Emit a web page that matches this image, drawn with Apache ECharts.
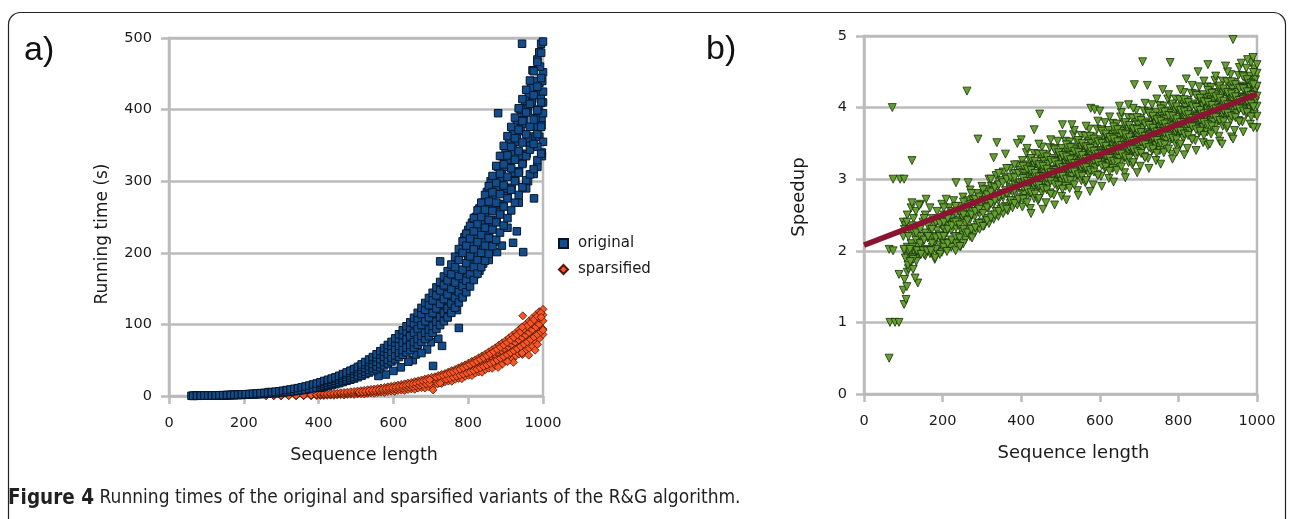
<!DOCTYPE html>
<html>
<head>
<meta charset="utf-8">
<script src="https://cdn.jsdelivr.net/npm/echarts@6/dist/echarts.min.js"></script>
<style>html,body{margin:0;padding:0;background:#fff;}#c{width:1290px;height:519px;}</style>
</head>
<body>
<div id="c"></div>
<script>
// ---------- DATA ----------
const legendNames = ['original', 'sparsified'];

// original: [sequence length, running time (s)]
const originalPoints = [
[60,0.3],[66,0.2],[72,0.4],[78,0.3],[84,0.5],[90,0.4],[96,0.6],[102,0.5],[108,0.7],[114,0.6],[120,0.8],[126,0.9],[132,0.7],[138,1.0],[144,1.1],[150,0.9],[156,1.3],[162,1.2],[168,1.5],[174,1.4],[180,1.7],[186,1.5],[192,1.9],[198,2.1],[204,1.8],[210,2.4],[216,2.2],[222,2.7],[228,2.5],[234,3.1],[240,2.8],[246,3.5],[252,3.2],[258,4.0],[264,3.6],[268,5.5],[272,4.3],[278,4.9],[284,4.1],[290,5.6],[296,5.0],[302,6.4],[306,5.3],[312,7.2],[318,6.0],[322,8.1],[328,6.8],[334,9.0],[338,7.4],[344,10.2],[350,8.3],[354,11.3],[360,9.1],[366,12.6],[370,10.0],[376,13.8],[382,11.2],[386,15.2],[392,12.4],[398,16.8],[402,13.5],[408,18.1],[412,14.6],[418,19.9],[424,16.0],[428,21.5],[434,17.7],[440,23.4],[444,19.2],[450,25.6],[454,21.0],[460,27.8],[466,22.6],[470,30.3],[476,24.8],[480,32.5],[486,27.0],[490,35.1],[496,29.3],[500,37.9],[504,31.2],[510,40.8],[514,33.9],[520,43.5],[526,36.4],[530,46.8],[536,38.7],[540,50.2],[546,41.5],[550,54.0],[556,44.3],[560,57.6],[566,47.9],[570,61.8],[574,50.1],[580,65.9],[586,53.6],[590,70.3],[596,57.2],[600,75.0],[604,60.9],[610,79.8],[616,64.8],[620,84.6],[624,68.0],[630,90.1],[636,72.9],[640,95.4],[646,77.6],[650,101.2],[656,82.0],[660,107.5],[664,86.9],[670,113.6],[676,92.3],[680,120.4],[686,97.5],[690,127.0],[694,103.1],[700,134.2],[706,108.8],[710,141.5],[716,114.0],[720,149.0],[726,120.6],[730,156.8],[734,126.9],[740,165.0],[746,133.2],[750,173.1],[754,140.5],[760,181.9],[766,147.2],[770,190.6],[774,155.0],[780,199.8],[786,162.3],[790,209.4],[796,170.1],[800,219.0],[804,178.4],[810,228.6],[816,187.0],[820,238.9],[826,196.2],[830,249.0],[834,205.5],[840,259.3],[846,214.8],[850,270.2],[856,225.0],[860,281.0],[864,235.6],[870,292.4],[876,246.1],[880,303.8],[886,257.0],[890,315.5],[894,268.2],[900,327.0],[906,279.4],[910,338.8],[916,291.0],[920,350.2],[926,302.5],[930,362.0],[936,314.0],[940,374.5],[946,326.2],[950,386.0],[956,338.4],[960,398.6],[966,350.0],[970,411.3],[976,362.5],[980,424.0],[986,375.0],[990,437.5],[996,388.0],[1000,452.0],
[520,40],[540,46],[560,52],[580,60],[600,67],[620,76],[640,86],[660,97],[680,108],[700,120],[720,132],[740,146],[760,160],[780,175],[800,190],[820,208],[840,226],[860,246],[880,268],[900,290],[920,312],[940,336],[960,360],[980,388],[1000,410],
[985,470],[990,480],[995,492],[1000,495],[992,460],[998,440],[1000,425],[994,415],[988,400],[1000,395],[996,378],[990,362],[1000,355],[997,340],[985,348],[978,440],[972,455],[968,430],[962,420],[958,405],[952,412],[948,395],[944,380],[940,400],[935,370],[930,385],[925,355],[920,368],[915,340],[910,358],[905,330],[900,345],[895,320],[890,335],[885,305],[880,320],[875,290],[870,305],[865,275],[860,300],[855,262],[850,285],[845,250],[840,270],[835,240],[830,262],[825,230],[820,250],[815,220],[810,242],[805,212],[800,232],[795,205],[790,222],
[944,492],[880,395],[725,188],[775,95],[706,42],[730,70],[652,50],[660,58],[947,201],[877,201],[920,214],[976,276],[997,335],[890,210],[930,230],[960,300],[855,190],[840,185],[820,170],[800,160],[785,140],[770,120],[760,130],[745,110],[720,80],[700,75],[690,65],[675,60],[640,48],[620,40],[600,35],[580,30],[560,28],[700,100],[730,110],[750,125],[790,150],[815,165],[830,175],[870,215],[905,235],[935,270],[955,290],[975,310],[985,320]
];
// original, more readings: [sequence length, several running times at that length]
const originalRows = [
[65,0.2,0.3],[75,0.3,0.4],[85,0.4,0.5],[95,0.4,0.7],[105,0.5,0.7],[115,0.6,0.8],[125,0.6,1.0],[135,0.7,1.1],[145,0.8,1.2],[155,1.0,1.4],[165,1.1,1.7],[175,1.2,1.8],[185,1.4,2.0],[195,1.5,2.3],[205,1.7,2.5],[215,1.9,2.9],[225,2.2,3.2],[235,2.4,3.6],[245,2.6,4.0],[255,2.9,4.3],[265,3.2,4.8],[275,3.6,5.4],[285,4.0,6.0],[295,4.4,6.6],[305,5.0,7.4],[315,5.5,8.3],[325,6.1,9.1],[335,6.7,10.1],[345,7.4,11.0],[355,8.1,12.1],[365,8.9,13.3],[375,9.8,14.6],[385,10.7,16.1],[395,11.7,17.5],
[405,11.5,12.7,15.3,17.8,19.2],[415,12.7,14.1,16.8,19.4,21.0],[425,14.0,15.5,18.3,21.0,22.7],[435,15.2,16.9,19.8,22.6,24.4],[445,16.5,18.3,21.3,24.2,26.1],[455,17.9,19.9,23.0,26.1,28.2],[465,19.5,21.7,25.0,28.3,30.6],[475,21.2,23.5,27.0,30.5,32.9],[485,22.8,25.3,29.0,32.7,35.3],[495,24.4,27.1,31.0,34.9,37.7],
[505,26.3,29.2,33.4,37.6,40.6],[515,28.4,31.6,36.2,40.8,44.1],[525,30.6,34.0,39.0,44.0,47.5],[535,32.8,36.4,41.8,47.2,51.0],[545,34.9,38.8,44.6,50.4,54.4],[555,37.4,41.5,47.8,54.0,58.3],[565,40.1,44.5,51.3,58.0,62.6],[575,42.8,47.5,54.8,62.0,67.0],[585,45.5,50.5,58.3,66.0,71.3],[595,48.2,53.5,61.8,70.0,75.6],
[605,51.1,56.8,65.7,74.6,80.6],[615,54.4,60.4,70.1,79.8,86.2],[625,57.6,64.0,74.5,85.0,91.8],[635,60.8,67.6,78.9,90.2,97.4],[645,64.1,71.2,83.3,95.4,103.0],[655,67.7,75.2,88.2,101.2,109.3],[665,71.6,79.6,93.6,107.6,116.2],[675,75.6,84.0,99.0,114.0,123.1],[685,79.6,88.4,104.4,120.4,130.0],[695,83.5,92.8,109.8,126.8,137.0],
[705,88.2,98.0,115.8,133.5,144.2],[715,93.6,104.0,122.3,140.5,151.7],[725,99.0,110.0,128.8,147.5,159.3],[735,104.4,116.0,135.3,154.5,166.9],[745,109.8,122.0,141.8,161.5,174.4],[755,116.1,129.0,149.5,170.0,183.6],[765,123.3,137.0,158.5,180.0,194.4],[775,130.5,145.0,167.5,190.0,205.2],[785,137.7,153.0,176.5,200.0,216.0],[795,144.9,161.0,185.5,210.0,226.8],
[805,153.0,170.0,195.0,220.0,237.6],[815,162.0,180.0,205.0,230.0,248.4],[825,171.0,190.0,215.0,240.0,259.2],[835,180.0,200.0,225.0,250.0,270.0],[845,189.0,210.0,235.0,260.0,280.8],[855,198.5,220.5,246.0,271.5,293.2],[865,209.3,232.5,258.5,284.5,307.3],[875,218.3,242.5,270.0,297.5,321.3],[885,228.2,253.5,282.0,310.5,335.3],[895,238.1,264.5,294.0,323.5,349.4],
[905,248.4,276.0,306.0,336.0,362.9],[915,259.2,288.0,318.0,348.0,375.8],[925,270.0,300.0,330.0,360.0,388.8],[935,280.8,312.0,342.0,372.0,401.8],[945,291.6,324.0,354.0,384.0,414.7],[955,301.5,335.0,365.5,396.0,427.7],[965,309.6,344.0,376.0,408.0,440.6],[975,316.8,352.0,386.0,420.0,453.6],[985,329.4,366.0,399.0,432.0,466.6],[995,338.4,376.0,410.0,444.0,479.5]
];

// sparsified: [sequence length, several running times at that length]
const sparsifiedRows = [
[260,0.2,0.5],[280,0.3,0.6],[300,0.2,0.5,0.8],[320,0.4,0.7],[340,0.3,0.6,0.9],[360,0.5,0.8,1.1],[380,0.4,0.9,1.4],
[395,0.6,1.2,1.9],[405,0.8,1.6,2.4],[414,0.6,1.5,2.1,2.9],[423,1.0,1.9,2.8],[432,1.2,2.2,3.2],[441,0.9,2.4,3.6],[450,1.5,2.8,3.9],[459,1.8,3.2,4.5],[468,1.4,3.5,4.9],[477,2.1,3.9,5.4],[486,2.5,4.2,5.9],[495,2.2,4.6,6.3],[504,2.9,4.9,6.9],[513,3.3,5.5,7.4],[522,2.8,5.9,8.0],[531,3.8,6.4,8.6],[540,4.3,6.8,9.2],[549,3.9,7.3,9.8],[558,4.9,7.9,10.5],[567,5.4,8.4,11.2],[576,5.0,9.0,12.0],[585,6.2,9.6,12.8],[594,6.8,10.2,13.5],[603,6.3,10.8,14.4],[612,7.6,11.5,15.2],[621,8.2,12.2,16.1],[630,7.7,13.0,17.0],[639,9.1,13.8,18.0],[648,9.9,14.7,19.0],[657,9.3,15.6,20.1],[666,11.0,16.5,21.2],[675,11.8,17.4,22.4],[684,11.2,18.4,23.6],[693,13.1,19.5,24.9],[702,14.0,20.6,26.2],
[711,16.0,20.1,22.6,24.5,26.8],[720,17.9,21.5,24.0,26.0,28.6],[729,17.6,22.4,25.3,27.4,30.1],[738,19.8,23.9,26.8,29.0,31.4],[747,20.9,25.1,28.2,30.5,33.6],[756,20.6,26.5,29.8,32.2,35.5],[765,23.4,28.0,31.4,34.0,37.0],[774,24.6,29.4,33.1,35.8,39.4],[783,24.2,31.1,34.9,37.6,41.6],[792,27.5,32.8,36.8,39.8,43.5],[801,28.9,34.4,38.7,41.8,46.0],[810,28.6,36.2,40.7,44.0,48.4],[819,32.0,38.0,42.7,46.1,50.5],[828,33.5,40.0,44.9,48.5,53.4],[837,33.2,41.9,47.1,50.9,56.0],[846,37.1,44.0,49.5,53.4,58.5],[855,38.8,46.2,51.9,56.0,61.7],[864,38.6,48.4,54.4,58.8,64.7],[873,42.8,50.7,57.0,61.6,67.4],[882,44.7,53.1,59.7,64.5,71.0],[891,44.3,55.6,62.5,67.5,74.3],[900,49.1,58.2,65.4,70.6,77.3],[909,51.2,60.8,68.3,73.8,81.2],[918,50.8,63.5,71.4,77.1,84.9],[927,56.0,66.5,74.7,80.7,88.2],[936,58.5,69.4,78.0,84.2,92.7],[945,58.0,72.4,81.4,87.9,96.6],[954,63.8,75.6,84.9,91.7,100.3],[963,66.5,78.9,88.6,95.7,104.8],[972,69.4,82.2,92.4,99.8,109.0],[981,75.2,85.7,96.3,104.0,113.5],[990,80.3,89.4,100.4,108.4,117.8],[1000,86.0,93.5,105.0,113.4,121.0],
[508,4.2,5.5],[517,4.6,5.9],[526,5.0,6.5],[535,5.4,7.0],[544,5.9,7.6],[553,6.2,8.0],[562,6.6,8.6],[571,7.2,9.4],[580,7.8,10.1],[589,8.4,10.9],[598,8.8,11.4],[607,9.4,12.2],[616,9.9,12.9],[625,10.7,13.9],[634,11.5,14.9],[643,12.3,16.0],[652,13.0,16.8],[661,13.9,17.9],[670,14.8,19.1],[679,15.8,20.5],[688,16.8,21.8],[697,17.6,22.8],
[715,19.8,25.6],[724,21.0,27.1],[733,22.2,28.6],[742,23.4,30.3],[751,24.7,32.0],[760,26.1,33.7],[769,27.5,35.5],[778,29.0,37.5],[787,30.5,39.5],[796,32.2,41.6],[805,33.9,43.8],[814,35.6,46.1],[823,37.5,48.5],[832,39.4,51.0],[841,41.4,53.6],[850,43.4,56.2],[859,45.6,59.0],[868,47.8,61.9],[877,50.2,65.0],[886,52.6,68.1],[895,55.1,71.3],[904,57.7,74.7],[913,60.4,78.2],[922,63.2,81.8],[931,66.1,85.6],[940,69.2,89.5],[949,72.3,93.6],[958,75.5,97.8],[967,78.9,102.1],[976,82.4,106.6],[985,86.0,111.3],[994,89.6,116.0],
[706,8.5],[718,17],[725,18],[944,60],[979,64],[921,47],[962,57],[985,72],[1000,92],[995,110],[946,112],[880,40],[905,48],[944,96]
];

// speedup: [sequence length, several speedups at that length]
const speedupRows = [
[100,1.45,2.2,2.4],[105,1.9,2.35],[110,1.7,2.05,2.5],[115,1.95,2.3],[120,1.85,2.1,2.6],[126,2.0,2.25,2.45],[132,1.9,2.15,2.55],[138,2.05,2.3],[144,1.95,2.2,2.65],[150,2.0,2.12,2.4],[156,1.93,2.25,2.5],[162,2.02,2.18,2.38],[168,1.96,2.3,2.6],[174,2.05,2.2,2.45],[180,1.88,2.12,2.35],[186,2.0,2.28,2.55],[192,2.08,2.22,2.42],[198,1.98,2.15,2.35,2.65],[204,2.1,2.3,2.5],[210,2.02,2.25,2.4],[216,2.12,2.35,2.6],[222,2.05,2.28,2.45],[228,2.15,2.4,2.7],[234,2.1,2.32,2.52],[240,2.2,2.42,2.62],[246,2.06,2.3,2.5],[252,2.22,2.45,2.75],[258,2.15,2.38,2.58],[264,2.28,2.5,2.7],[270,2.2,2.44,2.85],[276,2.32,2.55,2.72],[282,2.25,2.48,2.66],[288,2.36,2.6,2.8],[294,2.3,2.52,2.74],[300,2.4,2.62,2.9],[306,2.35,2.57,2.78],[312,2.45,2.68,2.86],[318,2.38,2.62,3.0],[324,2.5,2.72,2.9],[330,2.44,2.66,2.84],[336,2.55,2.76,3.05],[342,2.48,2.7,2.92],[348,2.58,2.8,2.98],[354,2.52,2.74,3.1],[360,2.62,2.84,3.02],[366,2.56,2.78,2.96],[372,2.66,2.88,3.15],[378,2.6,2.82,3.0],[384,2.7,2.92,3.08],[390,2.64,2.86,3.2],[396,2.74,2.95,3.12],
[103,1.6,2.0,2.3],[113,1.75,2.0,2.2],[123,1.9,2.05,2.35],[133,1.85,2.0,2.25],[143,2.0,2.1,2.3],[153,1.95,2.15,2.45],[163,2.0,2.2,2.35],[173,1.98,2.1,2.3],[183,2.02,2.18,2.4],[193,1.95,2.2,2.38],[203,2.05,2.2,2.4,2.6],[213,2.1,2.3,2.45],[223,2.15,2.35,2.55],[233,2.0,2.2,2.4,2.62],[243,2.18,2.36,2.55],[253,2.1,2.3,2.5,2.68],[263,2.25,2.42,2.6],[273,2.3,2.5,2.65,2.8],[283,2.32,2.55,2.72],[293,2.38,2.58,2.75],[303,2.34,2.52,2.7,2.85],[313,2.42,2.6,2.78],[323,2.46,2.66,2.82,3.0],[333,2.5,2.7,2.88],[343,2.55,2.75,2.92,3.08],[353,2.6,2.78,2.95],[363,2.58,2.8,3.0,3.15],[373,2.7,2.86,3.03],[383,2.66,2.84,3.02,3.2],[393,2.72,2.9,3.08],
[403,2.61,2.80,2.95,3.09,3.26],[408,2.79,2.95,3.08],[413,2.73,2.89,3.04,3.20,3.37],[418,2.87,3.02,3.17],[423,2.59,2.80,2.95,3.10,3.26],[428,2.84,3.00,3.13],[433,2.73,2.90,3.05,3.20,3.36],[438,2.91,3.06,3.21],[443,2.70,2.89,3.04,3.18,3.35],[448,2.88,3.04,3.17],[453,2.81,2.97,3.12,3.28,3.45],[458,2.95,3.10,3.25],[463,2.67,2.88,3.03,3.18,3.34],[468,2.92,3.08,3.21],[473,2.81,2.98,3.13,3.28,3.44],[478,2.99,3.14,3.29],[483,2.78,2.97,3.12,3.26,3.43],[488,2.96,3.12,3.25],[493,2.89,3.05,3.20,3.36,3.53],[498,3.03,3.18,3.33],
[503,2.76,2.97,3.12,3.27,3.43],[508,3.00,3.16,3.29],[513,2.90,3.07,3.22,3.37,3.53],[518,3.08,3.23,3.38],[523,2.87,3.06,3.21,3.35,3.52],[528,3.04,3.20,3.33],[533,2.98,3.14,3.29,3.45,3.62],[538,3.12,3.27,3.42],[543,2.84,3.05,3.20,3.35,3.51],[548,3.08,3.24,3.37],[553,2.98,3.15,3.30,3.45,3.61],[558,3.16,3.31,3.46],[563,2.95,3.14,3.29,3.43,3.60],[568,3.12,3.28,3.41],[573,3.06,3.22,3.37,3.53,3.70],[578,3.20,3.35,3.50],[583,2.92,3.13,3.28,3.43,3.59],[588,3.16,3.32,3.45],[593,3.07,3.24,3.39,3.54,3.70],[598,3.25,3.40,3.55],
[603,3.04,3.23,3.38,3.52,3.69],[608,3.20,3.36,3.49],[613,3.15,3.31,3.46,3.62,3.79],[618,3.29,3.44,3.59],[623,3.01,3.22,3.37,3.52,3.68],[628,3.25,3.41,3.54],[633,3.15,3.32,3.47,3.62,3.78],[638,3.33,3.48,3.63],[643,3.12,3.31,3.46,3.60,3.77],[648,3.29,3.45,3.58],[653,3.23,3.39,3.54,3.70,3.87],[658,3.37,3.52,3.67],[663,3.09,3.30,3.45,3.60,3.76],[668,3.33,3.49,3.62],[673,3.23,3.40,3.55,3.70,3.86],[678,3.41,3.56,3.71],[683,3.20,3.39,3.54,3.68,3.85],[688,3.37,3.53,3.66],[693,3.32,3.48,3.63,3.79,3.96],[698,3.46,3.61,3.76],
[703,3.18,3.39,3.54,3.69,3.85],[708,3.42,3.58,3.71],[713,3.32,3.49,3.64,3.79,3.95],[718,3.50,3.65,3.80],[723,3.29,3.48,3.63,3.77,3.94],[728,3.46,3.62,3.75],[733,3.40,3.56,3.71,3.87,4.04],[738,3.54,3.69,3.84],[743,3.26,3.47,3.62,3.77,3.93],[748,3.50,3.66,3.79],[753,3.40,3.57,3.72,3.87,4.03],[758,3.58,3.73,3.88],[763,3.37,3.56,3.71,3.85,4.02],[768,3.55,3.71,3.84],[773,3.48,3.64,3.79,3.95,4.12],[778,3.62,3.77,3.92],[783,3.35,3.56,3.71,3.86,4.02],[788,3.59,3.75,3.88],[793,3.49,3.66,3.81,3.96,4.12],[798,3.67,3.82,3.97],
[803,3.46,3.65,3.80,3.94,4.11],[808,3.63,3.79,3.92],[813,3.57,3.73,3.88,4.04,4.21],[818,3.71,3.86,4.01],[823,3.43,3.64,3.79,3.94,4.10],[828,3.67,3.83,3.96],[833,3.57,3.74,3.89,4.04,4.20],[838,3.75,3.90,4.05],[843,3.54,3.73,3.88,4.02,4.19],[848,3.71,3.87,4.00],[853,3.65,3.81,3.96,4.12,4.29],[858,3.79,3.94,4.09],[863,3.51,3.72,3.87,4.02,4.18],[868,3.76,3.92,4.05],[873,3.66,3.83,3.98,4.13,4.29],[878,3.84,3.99,4.14],[883,3.63,3.82,3.97,4.11,4.28],[888,3.80,3.96,4.09],[893,3.74,3.90,4.05,4.21,4.38],[898,3.88,4.03,4.18],
[903,3.60,3.81,3.96,4.11,4.27],[908,3.84,4.00,4.13],[913,3.74,3.91,4.06,4.21,4.37],[918,3.92,4.07,4.22],[923,3.71,3.90,4.05,4.19,4.36],[928,3.88,4.04,4.17],[933,3.82,3.98,4.13,4.29,4.46],[938,3.96,4.11,4.26],[943,3.68,3.89,4.04,4.19,4.35],[948,3.92,4.08,4.21],[953,3.82,3.99,4.14,4.29,4.45],[958,4.00,4.15,4.30],[963,3.80,3.99,4.14,4.28,4.45],[968,3.97,4.13,4.26],[973,3.91,4.07,4.22,4.38,4.55],[978,4.05,4.20,4.35],[983,3.77,3.98,4.13,4.28,4.44],[988,4.02,4.18,4.31],[993,3.91,4.08,4.23,4.38,4.54],[996,4.09,4.24,4.39],[1000,3.72,3.88,4.02,4.16,4.30,4.48,4.60],
[405,2.72,2.88,3.01,3.18],[415,2.67,2.85,2.97,3.14,3.43],[425,2.52,2.81,2.97,3.12,3.29],[435,2.79,2.95,3.08,3.25],[445,2.73,2.91,3.03,3.20,3.49],[455,2.58,2.87,3.03,3.18,3.35],[465,2.85,3.01,3.14,3.31],[475,2.79,2.97,3.09,3.26,3.55],[485,2.64,2.93,3.09,3.24,3.41],[495,2.91,3.07,3.20,3.37],
[505,2.86,3.04,3.16,3.33,3.62],[515,2.71,3.00,3.16,3.31,3.48],[525,2.98,3.14,3.27,3.44],[535,2.92,3.10,3.22,3.39,3.68],[545,2.77,3.06,3.22,3.37,3.54],[555,3.04,3.20,3.33,3.50],[565,2.98,3.16,3.28,3.45,3.74],[575,2.83,3.12,3.28,3.43,3.60],[585,3.10,3.26,3.39,3.56],[595,3.05,3.23,3.35,3.52,3.81],
[605,2.90,3.19,3.35,3.50,3.67],[615,3.17,3.33,3.46,3.63],[625,3.11,3.29,3.41,3.58,3.87],[635,2.96,3.25,3.41,3.56,3.73],[645,3.23,3.39,3.52,3.69],[655,3.17,3.35,3.47,3.64,3.93],[665,3.02,3.31,3.47,3.62,3.79],[675,3.29,3.45,3.58,3.75],[685,3.23,3.41,3.53,3.70,3.99],[695,3.09,3.38,3.54,3.69,3.86],
[705,3.36,3.52,3.65,3.82],[715,3.30,3.48,3.60,3.77,4.06],[725,3.15,3.44,3.60,3.75,3.92],[735,3.42,3.58,3.71,3.88],[745,3.36,3.54,3.66,3.83,4.12],[755,3.21,3.50,3.66,3.81,3.98],[765,3.48,3.64,3.77,3.94],[775,3.42,3.60,3.72,3.89,4.18],[785,3.28,3.57,3.73,3.88,4.05],[795,3.55,3.71,3.84,4.01],
[805,3.49,3.67,3.79,3.96,4.25],[815,3.34,3.63,3.79,3.94,4.11],[825,3.61,3.77,3.90,4.07],[835,3.55,3.73,3.85,4.02,4.31],[845,3.40,3.69,3.85,4.00,4.17],[855,3.67,3.83,3.96,4.13],[865,3.61,3.79,3.91,4.08,4.37],[875,3.47,3.76,3.92,4.07,4.24],[885,3.74,3.90,4.03,4.20],[895,3.68,3.86,3.98,4.15,4.44],
[905,3.53,3.82,3.98,4.13,4.30],[915,3.80,3.96,4.09,4.26],[925,3.74,3.92,4.04,4.21,4.50],[935,3.59,3.88,4.04,4.19,4.36],[945,3.86,4.02,4.15,4.32],[955,3.80,3.98,4.10,4.27,4.56],[965,3.66,3.95,4.11,4.26,4.43],[975,3.93,4.09,4.22,4.39],[985,3.87,4.05,4.17,4.34,4.63],[991,3.72,4.01,4.17,4.32,4.49]
];
const speedupOutliers = [
[64,0.5],[66,1.0],[79,1.0],[89,1.0],[64,2.02],[74,2.0],[72,4.0],[74,3.0],[92,3.0],[102,3.0],[122,3.26],[262,4.23],[234,2.95],[265,2.95],[290,3.56],[338,3.51],[89,1.67],[102,1.25],[107,1.32],[109,1.5],[112,1.8],[125,1.74],[125,1.88],[137,1.55],[130,1.62],[102,2.02],[117,2.02],[135,2.0],[150,2.0],[181,1.9],[211,1.99],[244,2.06],[275,2.18],[122,2.67],[140,2.63],[158,2.72],[209,2.72],[109,2.4],[709,4.64],[779,4.63],[939,4.95],[688,4.32],[721,4.31],[875,4.6],[976,4.67],[447,3.91],[433,3.69],[577,3.99],[587,3.97],[505,3.76],[529,3.76],[673,4.04],[880,3.49],[911,3.49],[939,3.56],[796,3.38],[160,2.0],[170,2.0],[145,1.95],[118,1.85],[400,3.55],[390,3.5],[330,3.3],[360,3.35],[600,3.95],[650,4.02],[760,4.25],[820,4.4],[850,4.5],[960,4.62],[990,4.7],[920,4.58]
];
// fitted trend line endpoints
const trendLine = [[0, 2.08], [1000, 4.19]];

// ---------- BUILD ----------
function rowsToPoints(rows) {
  const out = [];
  rows.forEach(r => { for (let i = 1; i < r.length; i++) out.push([r[0], r[i]]); });
  return out;
}
const originalAll = originalPoints.concat(rowsToPoints(originalRows));
const sparsifiedPoints = rowsToPoints(sparsifiedRows);
const speedupPoints = rowsToPoints(speedupRows).concat(speedupOutliers);

const FONT = 'DejaVu Sans';
const GRAY = '#bbbbbb';
const TXT = '#1a1a1a';

function xAxisCfg(gridIndex, nameSize, pad) {
  return {
    gridIndex, type: 'value', min: 0, max: 1000, interval: 200,
    axisLine: { show: true, lineStyle: { color: GRAY, width: 2.5 } },
    axisTick: { show: true, length: 8, lineStyle: { color: GRAY, width: 2.5 } },
    splitLine: { show: false },
    axisLabel: { margin: 20, fontSize: 14.5, color: TXT, fontFamily: FONT, formatter: v => String(v) },
    name: 'Sequence length', nameLocation: 'middle', nameGap: 50,
    nameTextStyle: { fontSize: nameSize, color: TXT, fontFamily: FONT, padding: pad }
  };
}
function yAxisCfg(gridIndex, max, interval, name, nameSize, gap, pad) {
  return {
    gridIndex, type: 'value', min: 0, max, interval,
    axisLine: { show: true, lineStyle: { color: GRAY, width: 2.5 } },
    axisTick: { show: true, length: 8, lineStyle: { color: GRAY, width: 2.5 } },
    splitLine: { show: true, lineStyle: { color: GRAY, width: 2.5 } },
    axisLabel: { margin: 17, fontSize: 14.5, color: TXT, fontFamily: FONT, formatter: v => String(v) },
    name, nameLocation: 'middle', nameGap: gap, nameRotate: 90,
    nameTextStyle: { fontSize: nameSize, color: TXT, fontFamily: FONT, padding: pad }
  };
}

const chart = echarts.init(document.getElementById('c'), null, { renderer: 'canvas' });
chart.setOption({
  animation: false,
  backgroundColor: '#ffffff',
  grid: [
    { left: 169, top: 38, width: 374, height: 358, show: true, borderColor: GRAY, borderWidth: 2.5, backgroundColor: 'transparent' },
    { left: 864, top: 36, width: 393, height: 358, show: true, borderColor: GRAY, borderWidth: 2.5, backgroundColor: 'transparent' }
  ],
  xAxis: [xAxisCfg(0, 17.5, [0, 0, 0, 16]), xAxisCfg(1, 18, [0, 0, 0, 26])],
  yAxis: [
    yAxisCfg(0, 500, 100, 'Running time (s)', 17, 58, [0, 34, 0, 0]),
    yAxisCfg(1, 5, 1, 'Speedup', 18, 56, [0, 0, 0, 36])
  ],
  legend: {
    data: legendNames, orient: 'vertical', left: 553, top: 231,
    itemWidth: 9, itemHeight: 9, itemGap: 11,
    textStyle: { fontSize: 15, color: TXT, fontFamily: FONT, padding: [0, 0, 0, 5] }
  },
  graphic: [
    { type: 'rect', shape: { x: 8.5, y: 12.5, width: 1277, height: 540, r: 12 },
      style: { fill: 'none', stroke: '#222', lineWidth: 1.2 }, silent: true },
    { type: 'text', left: 24, top: 34, style: { text: 'a)', font: '34px "Liberation Sans"', fill: '#111' } },
    { type: 'text', left: 706, top: 33, style: { text: 'b)', font: '34px "Liberation Sans"', fill: '#111' } },
    { type: 'text', left: 8, top: 488, style: {
        text: '{b|Figure 4} Running times of the original and sparsified variants of the R&G algorithm.',
        font: '19px "DejaVu Sans Condensed", "Liberation Sans"', fill: '#231f20',
        rich: { b: { fontWeight: 'bold', fontSize: 20.5, fontFamily: '"DejaVu Sans Condensed", "Liberation Sans"', fill: '#231f20' } } } }
  ],
  series: [
    { name: 'sparsified', type: 'scatter', xAxisIndex: 0, yAxisIndex: 0, data: sparsifiedPoints,
      symbol: 'diamond', symbolSize: 8,
      itemStyle: { color: '#fb5524', borderColor: '#4a1606', borderWidth: 0.8, opacity: 1 } },
    { name: 'original', type: 'scatter', xAxisIndex: 0, yAxisIndex: 0, data: originalAll,
      symbol: 'rect', symbolSize: 7.5,
      itemStyle: { color: '#134c8a', borderColor: '#06162a', borderWidth: 1, opacity: 1 } },
    { name: 'Speedup', type: 'scatter', xAxisIndex: 1, yAxisIndex: 1, data: speedupPoints,
      symbol: 'triangle', symbolRotate: 180, symbolSize: 8,
      itemStyle: { color: '#65a030', borderColor: '#16300a', borderWidth: 0.8, opacity: 1 } },
    { name: 'trend', type: 'line', xAxisIndex: 1, yAxisIndex: 1, data: trendLine,
      symbol: 'none', z: 5, lineStyle: { color: '#8c1430', width: 5.5 } }
  ]
});
</script>
</body>
</html>
